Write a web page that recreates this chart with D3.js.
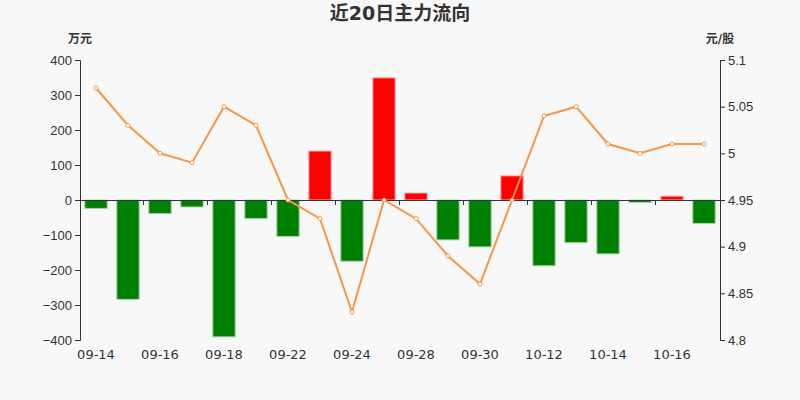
<!DOCTYPE html>
<html>
<head>
<meta charset="utf-8">
<script src="https://cdn.jsdelivr.net/npm/d3@7"></script>
<style>
  body { margin: 0; background: #f8f8f8; }
  svg { display: block; font-family: "DejaVu Sans", "Noto Sans CJK SC", sans-serif; }
</style>
</head>
<body>
<svg id="chart" width="800" height="400"></svg>
<script>
var dates = [ '09-14', '09-15', '09-16', '09-17', '09-18', '09-21', '09-22', '09-23', '09-24', '09-25',
  '09-28', '09-29', '09-30', '10-09', '10-12', '10-13', '10-14', '10-15', '10-16', '10-19' ];
var flows = [ -24, -284, -39, -20, -391, -53, -104, 140, -175, 349,
  20, -114, -134, 69, -188, -122, -154, -7, 11, -67 ];
var prices = [ 5.07, 5.03, 5.00, 4.99, 5.05, 5.03, 4.95, 4.93, 4.83, 4.95,
  4.93, 4.89, 4.86, 4.95, 5.04, 5.05, 5.01, 5.00, 5.01, 5.01 ];
var flowTicks = [ -400, -300, -200, -100, 0, 100, 200, 300, 400 ];
var priceTicks = [ 4.8, 4.85, 4.9, 4.95, 5, 5.05, 5.1 ];

var svg = d3.select( '#chart' ),
  margin = { top: 60, right: 80, bottom: 60, left: 80 },
  width = +svg.attr( 'width' ),
  height = +svg.attr( 'height' );

var data = dates.map( ( d, i ) => ( { date: d, flow: flows[ i ], price: prices[ i ] } ) );

var x = d3.scaleBand()
  .range( [ margin.left, width - margin.right ] )
  .domain( dates );

var y = d3.scaleLinear()
  .range( [ height - margin.bottom, margin.top ] )
  .domain( [ -400, 400 ] );

var y2 = d3.scaleLinear()
  .range( [ height - margin.bottom, margin.top ] )
  .domain( [ 4.8, 5.1 ] );

/* Title */

svg.append( 'text' )
  .attr( 'x', width / 2 )
  .attr( 'y', 20 )
  .attr( 'text-anchor', 'middle' )
  .style( 'font-size', 19 )
  .style( 'font-weight', 'bold' )
  .style( 'fill', '#333' )
  .text( '近20日主力流向' );

svg.append( 'text' )
  .attr( 'x', margin.left )
  .attr( 'y', 43 )
  .attr( 'text-anchor', 'middle' )
  .style( 'font-size', 12 )
  .style( 'font-weight', 'bold' )
  .style( 'fill', '#333' )
  .text( '万元' );

svg.append( 'text' )
  .attr( 'x', width - margin.right )
  .attr( 'y', 43 )
  .attr( 'text-anchor', 'middle' )
  .style( 'font-size', 12 )
  .style( 'font-weight', 'bold' )
  .style( 'fill', '#333' )
  .text( '元/股' );

/* Axes */

var leftAxis = svg.append( 'g' )
  .attr( 'transform', 'translate(' + margin.left + ',0)' )
  .call( d3.axisLeft( y ).tickValues( flowTicks ).tickSize( 5 ).tickPadding( 3 ) );

var rightAxis = svg.append( 'g' )
  .attr( 'transform', 'translate(' + ( width - margin.right ) + ',0)' )
  .call( d3.axisRight( y2 ).tickValues( priceTicks ).tickSize( 5 ).tickPadding( 3 )
    .tickFormat( d => +d.toFixed( 2 ) ) );

[ leftAxis, rightAxis ].forEach( a => {
  a.select( '.domain' ).attr( 'stroke', '#333' ).attr( 'd', a === leftAxis
    ? 'M-5,' + ( height - margin.bottom ) + '.5H0.5V' + margin.top + '.5H-5'
    : 'M5,' + ( height - margin.bottom ) + '.5H0.5V' + margin.top + '.5H5' );
  a.selectAll( '.tick line' ).attr( 'stroke', '#333' );
  a.selectAll( '.tick text' ).style( 'font-size', 13 ).style( 'fill', '#333' );
} );

/* Bars */

var bw = x.bandwidth() * 0.7;

svg.selectAll( '.bar' )
  .data( data ).enter().append( 'rect' )
    .attr( 'class', 'bar' )
    .attr( 'x', d => x( d.date ) + ( x.bandwidth() - bw ) / 2 )
    .attr( 'width', bw )
    .attr( 'y', d => y( Math.max( 0, d.flow ) ) )
    .attr( 'height', d => Math.abs( y( d.flow ) - y( 0 ) ) )
    .style( 'fill', d => d.flow >= 0 ? '#ff0000' : '#008000' )
    .style( 'stroke', d => d.flow >= 0 ? '#ffb0b0' : '#a8d8a8' )
    .style( 'stroke-width', 1 );

/* Zero axis */

var zeroAxis = svg.append( 'g' )
  .attr( 'transform', 'translate(0,' + y( 0 ) + ')' )
  .call( d3.axisBottom( x ).tickSize( 5 ).tickFormat( '' ) );

zeroAxis.select( '.domain' ).attr( 'stroke', '#333' )
  .attr( 'd', 'M' + margin.left + ',0.5H' + ( width - margin.right ) );
zeroAxis.selectAll( '.tick' )
  .attr( 'transform', ( d, i ) => 'translate(' + ( x( d ) - 0.5 ) + ',0)' )
  .style( 'display', ( d, i ) => ( i % 2 === 0 && i > 0 ) ? null : 'none' )
  .select( 'line' ).attr( 'stroke', '#333' );

svg.selectAll( '.xlabel' )
  .data( data.filter( ( d, i ) => i % 2 === 0 ) ).enter().append( 'text' )
    .attr( 'class', 'xlabel' )
    .attr( 'x', d => x( d.date ) + x.bandwidth() / 2 )
    .attr( 'y', height - margin.bottom + 19 )
    .attr( 'text-anchor', 'middle' )
    .style( 'font-size', 13 )
    .style( 'fill', '#333' )
    .text( d => d.date );

/* Price line */

var line = d3.line()
  .x( d => x( d.date ) + x.bandwidth() / 2 )
  .y( d => y2( d.price ) );

svg.append( 'path' )
  .datum( data )
  .attr( 'd', line )
  .style( 'fill', 'none' )
  .style( 'stroke', '#f89545' )
  .style( 'stroke-width', 2 );

svg.selectAll( '.pt' )
  .data( data ).enter().append( 'circle' )
    .attr( 'class', 'pt' )
    .attr( 'cx', d => x( d.date ) + x.bandwidth() / 2 )
    .attr( 'cy', d => y2( d.price ) )
    .attr( 'r', 2 )
    .style( 'fill', '#fff' )
    .style( 'stroke', '#f89545' )
    .style( 'stroke-width', 1 );
</script>
</body>
</html>
